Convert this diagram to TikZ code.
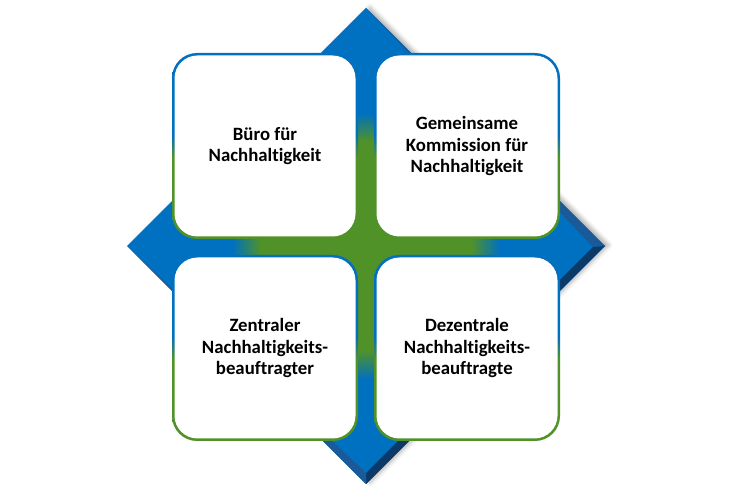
\documentclass[tikz,border=0pt]{standalone}
\usepackage{fontspec}                 % polices systeme
\setmainfont[Ligatures=NoCommon]{Carlito} % metrique de Calibri, sans ligature ti
\usepackage{tikz}
\usetikzlibrary{shadows.blur}         % ombre floue du losange
\definecolor{bl}{RGB}{0,112,192}
\definecolor{vt}{RGB}{80,146,40}
\definecolor{blf}{RGB}{27,90,152}
\definecolor{blt}{RGB}{12,58,104}
\pgfdeclareradialshading{losange}{\pgfpoint{0bp}{0bp}}{color(0bp)=(vt); color(11bp)=(vt); color(14bp)=(bl); color(50bp)=(bl)}
\pgfdeclareverticalshading{cadre}{100bp}{color(0bp)=(vt); color(47bp)=(vt); color(53bp)=(bl); color(100bp)=(bl)}

\begin{document}
\begin{tikzpicture}[x=1pt,y=1pt,
  cadre/.style={shading=cadre,rounded corners=25pt,minimum size=186pt,inner sep=0pt},
  boite/.style={fill=white,rounded corners=23pt,minimum size=181pt,inner sep=0pt,align=center,
    font=\bfseries\fontsize{18.8}{21.5}\selectfont}]
\useasboundingbox(0,0)rectangle(732,488);
\coordinate(H)at(366,480);
\coordinate(D)at(605,242);
\coordinate(B)at(366,4);
\coordinate(G)at(127,242);
\coordinate(Di)at(593,241);
\coordinate(Bi)at(366,15);
\shade[shading=losange,blur shadow={shadow xshift=4pt,shadow yshift=1pt,shadow blur radius=4pt,shadow opacity=30}](H)--(D)--(B)--(G)--cycle;
\fill[blf](H)--(D)--(Di)--cycle;
\fill[blt](D)--(B)--(Bi)--(Di)--cycle;
\fill[blf](G)--(B)--(Bi)--cycle;
\node[cadre](buroC)at(265,342){};
\node[boite](buro)at(buroC){B\"uro f\"ur\\Nachhaltigkeit};
\node[cadre](komC)at(467,342){};
\node[boite](kom)at(komC){Gemeinsame\\Kommission f\"ur\\Nachhaltigkeit};
\node[cadre](zenC)at(265,140){};
\node[boite](zen)at(zenC){Zentraler\\Nachhaltigkeits-\\beauftragter};
\node[cadre](dezC)at(467,140){};
\node[boite](dez)at(dezC){Dezentrale\\Nachhaltigkeits-\\beauftragte};
\end{tikzpicture}
\end{document}
